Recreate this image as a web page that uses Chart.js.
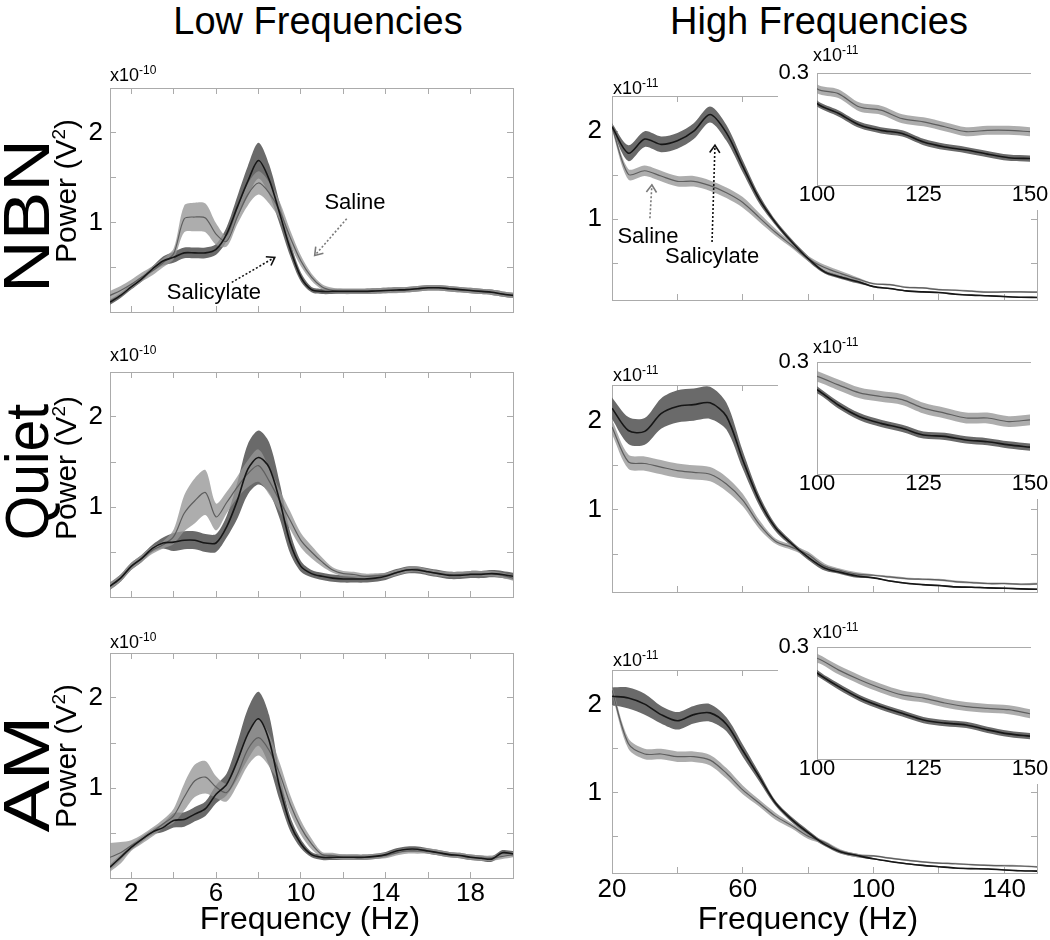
<!DOCTYPE html>
<html>
<head>
<meta charset="utf-8">
<title>Low and high frequency power spectra</title>
<script src="https://cdn.jsdelivr.net/npm/chart.js@4.4.1/dist/chart.umd.min.js"></script>
<style>
  body { margin: 0; background: #fff; }
  #fig { position: relative; width: 1050px; height: 940px; overflow: hidden;
         font-family: "Liberation Sans", Arial, sans-serif; color: #000; }
  #charts canvas { position: absolute; }
  #charts canvas.inset { background: #fff; }
  .txt { position: absolute; white-space: nowrap; line-height: 1; transform: translate(-50%, -50%); }
  .rot { transform: translate(-50%, -50%) rotate(-90deg); }
  .mult { position: absolute; white-space: nowrap; line-height: 1; font-size: 18px; }
  .mult sup { font-size: 12px; vertical-align: 7px; line-height: 0; }
</style>
</head>
<body>
<div id="fig">
  <div id="charts"></div>

  <div class="txt" style="left:318px;top:21px;font-size:38px">Low Frequencies</div>
  <div class="txt" style="left:819px;top:21px;font-size:38px">High Frequencies</div>

  <div class="txt" style="left:27px;top:216px;font-size:64px;transform:translate(-50%,-50%) rotate(-90deg) scaleX(1.14)">NBN</div>
  <div class="txt" style="left:27px;top:472px;font-size:62px;transform:translate(-50%,-50%) rotate(-90deg) scaleX(0.92)">Quiet</div>
  <div class="txt" style="left:27px;top:774px;font-size:64px;transform:translate(-50%,-50%) rotate(-90deg) scaleX(1.22)">AM</div>

  <div class="txt rot" style="left:65px;top:191px;font-size:30px">Power (V<sup style="font-size:19px">2</sup>)</div>
  <div class="txt rot" style="left:65px;top:468px;font-size:30px">Power (V<sup style="font-size:19px">2</sup>)</div>
  <div class="txt rot" style="left:65px;top:756px;font-size:30px">Power (V<sup style="font-size:19px">2</sup>)</div>

  <div class="mult" style="left:110px;top:66px">x10<sup>-10</sup></div>
  <div class="mult" style="left:110px;top:346px">x10<sup>-10</sup></div>
  <div class="mult" style="left:110px;top:633px">x10<sup>-10</sup></div>

  <div class="mult" style="left:613px;top:79px">x10<sup>-11</sup></div>
  <div class="mult" style="left:613px;top:366px">x10<sup>-11</sup></div>
  <div class="mult" style="left:613px;top:651px">x10<sup>-11</sup></div>

  <div class="mult" style="left:813px;top:46px">x10<sup>-11</sup></div>
  <div class="mult" style="left:813px;top:338px">x10<sup>-11</sup></div>
  <div class="mult" style="left:813px;top:623px">x10<sup>-11</sup></div>

  <div class="txt" style="left:310px;top:918px;font-size:32px">Frequency (Hz)</div>
  <div class="txt" style="left:808px;top:918px;font-size:32px">Frequency (Hz)</div>
</div>

<script>
// frequency grids (Hz)
const lowFreq = [1, 1.5, 2, 2.5, 3, 3.5, 4, 4.5, 5, 5.5, 6, 6.5, 7, 7.5, 8, 8.5, 9, 9.5, 10,
  10.5, 11, 11.5, 12, 12.5, 13, 13.5, 14, 14.5, 15, 15.5, 16, 16.5, 17, 17.5, 18, 18.5, 19, 19.5, 20];
const highFreq = [20, 25, 30, 35, 40, 45, 50, 55, 60, 65, 70, 75, 80, 85, 90, 95,
  100, 105, 110, 115, 120, 125, 130, 135, 140, 145, 150];

// low frequencies, x10^-10 V^2 (mean and SEM)
const nbnLowSaline = [0.185, 0.24, 0.31, 0.39, 0.46, 0.55, 0.65, 1.04, 1.06, 1.05, 0.87, 0.79, 1.06, 1.31, 1.44, 1.33, 1.13, 0.83, 0.57,
  0.39, 0.28, 0.24, 0.23, 0.23, 0.23, 0.235, 0.24, 0.24, 0.25, 0.26, 0.27, 0.27, 0.26, 0.25, 0.24, 0.23, 0.22, 0.2, 0.185];
const nbnLowSalineSem = [0.05, 0.05, 0.05, 0.05, 0.05, 0.05, 0.06, 0.15, 0.16, 0.16, 0.12, 0.06, 0.08, 0.12, 0.13, 0.12, 0.1, 0.08, 0.06,
  0.04, 0.03, 0.03, 0.03, 0.03, 0.03, 0.03, 0.03, 0.03, 0.03, 0.03, 0.03, 0.03, 0.03, 0.03, 0.03, 0.03, 0.03, 0.03, 0.03];
const nbnLowSalicylate = [0.11, 0.185, 0.28, 0.37, 0.48, 0.57, 0.61, 0.66, 0.66, 0.66, 0.70, 0.87, 1.17, 1.46, 1.69, 1.48, 1.10, 0.70, 0.39,
  0.25, 0.23, 0.23, 0.23, 0.23, 0.23, 0.235, 0.24, 0.245, 0.25, 0.26, 0.27, 0.27, 0.26, 0.25, 0.24, 0.23, 0.22, 0.2, 0.185];
const nbnLowSalicylateSem = [0.03, 0.03, 0.03, 0.03, 0.03, 0.05, 0.06, 0.06, 0.06, 0.06, 0.06, 0.08, 0.12, 0.17, 0.2, 0.17, 0.12, 0.08, 0.05,
  0.03, 0.03, 0.03, 0.03, 0.03, 0.03, 0.03, 0.03, 0.03, 0.03, 0.03, 0.03, 0.03, 0.03, 0.03, 0.03, 0.03, 0.03, 0.03, 0.03];

const quietLowSaline = [0.12, 0.21, 0.34, 0.43, 0.52, 0.58, 0.67, 0.93, 1.07, 1.16, 0.89, 1.05, 1.22, 1.37, 1.46, 1.29, 1.07, 0.85, 0.63,
  0.50, 0.39, 0.30, 0.26, 0.25, 0.23, 0.235, 0.24, 0.27, 0.30, 0.31, 0.28, 0.26, 0.25, 0.25, 0.26, 0.26, 0.26, 0.24, 0.21];
const quietLowSalineSem = [0.04, 0.04, 0.04, 0.04, 0.04, 0.04, 0.08, 0.2, 0.25, 0.25, 0.15, 0.12, 0.12, 0.15, 0.18, 0.15, 0.12, 0.1, 0.08,
  0.07, 0.05, 0.03, 0.03, 0.03, 0.03, 0.03, 0.03, 0.03, 0.03, 0.03, 0.03, 0.03, 0.03, 0.03, 0.03, 0.03, 0.03, 0.03, 0.03];
const quietLowSalicylate = [0.12, 0.21, 0.34, 0.43, 0.54, 0.60, 0.61, 0.63, 0.63, 0.60, 0.60, 0.78, 1.07, 1.42, 1.55, 1.44, 1.07, 0.60, 0.34,
  0.26, 0.23, 0.21, 0.20, 0.20, 0.20, 0.21, 0.23, 0.27, 0.30, 0.30, 0.28, 0.26, 0.24, 0.24, 0.25, 0.25, 0.26, 0.25, 0.23];
const quietLowSalicylateSem = [0.04, 0.04, 0.04, 0.04, 0.04, 0.06, 0.1, 0.1, 0.1, 0.1, 0.1, 0.12, 0.2, 0.28, 0.3, 0.28, 0.2, 0.12, 0.06,
  0.04, 0.04, 0.04, 0.04, 0.04, 0.04, 0.04, 0.04, 0.04, 0.04, 0.04, 0.04, 0.04, 0.04, 0.04, 0.04, 0.04, 0.04, 0.04, 0.04];

const amLowSaline = [0.23, 0.28, 0.36, 0.43, 0.51, 0.60, 0.69, 0.90, 1.08, 1.12, 1.01, 0.95, 1.15, 1.43, 1.56, 1.42, 1.16, 0.82, 0.56,
  0.38, 0.26, 0.25, 0.23, 0.23, 0.23, 0.24, 0.25, 0.28, 0.30, 0.30, 0.30, 0.28, 0.26, 0.25, 0.23, 0.22, 0.22, 0.24, 0.26];
const amLowSalineSem = [0.16, 0.12, 0.06, 0.05, 0.05, 0.05, 0.08, 0.15, 0.18, 0.18, 0.12, 0.1, 0.12, 0.18, 0.2, 0.18, 0.12, 0.1, 0.08,
  0.06, 0.03, 0.03, 0.03, 0.03, 0.03, 0.03, 0.03, 0.03, 0.03, 0.03, 0.03, 0.03, 0.03, 0.03, 0.03, 0.03, 0.03, 0.03, 0.03];
const amLowSalicylate = [0.12, 0.23, 0.34, 0.43, 0.51, 0.56, 0.64, 0.65, 0.71, 0.77, 0.93, 1.04, 1.30, 1.60, 1.77, 1.53, 1.01, 0.60, 0.38,
  0.26, 0.23, 0.23, 0.23, 0.23, 0.23, 0.24, 0.26, 0.30, 0.32, 0.32, 0.30, 0.28, 0.26, 0.25, 0.23, 0.22, 0.21, 0.28, 0.27];
const amLowSalicylateSem = [0.03, 0.03, 0.03, 0.03, 0.03, 0.05, 0.08, 0.08, 0.08, 0.08, 0.1, 0.12, 0.2, 0.28, 0.3, 0.28, 0.15, 0.08, 0.05,
  0.03, 0.03, 0.03, 0.03, 0.03, 0.03, 0.03, 0.03, 0.03, 0.03, 0.03, 0.03, 0.03, 0.03, 0.03, 0.03, 0.03, 0.03, 0.03, 0.03];

// high frequencies, x10^-11 V^2
const nbnHighSaline = [2.05, 1.51, 1.55, 1.49, 1.43, 1.43, 1.38, 1.30, 1.19, 1.02, 0.85, 0.70, 0.55, 0.45, 0.38, 0.32,
  0.265, 0.254, 0.224, 0.217, 0.198, 0.191, 0.180, 0.169, 0.172, 0.172, 0.169];
const nbnHighSalineSem = [0.04, 0.06, 0.06, 0.06, 0.06, 0.06, 0.06, 0.06, 0.06, 0.05, 0.04, 0.03, 0.03, 0.03, 0.03, 0.02,
  0.01, 0.01, 0.01, 0.01, 0.01, 0.01, 0.01, 0.01, 0.01, 0.01, 0.01];
const nbnHighSalicylate = [2.05, 1.75, 1.91, 1.85, 1.89, 2.00, 2.19, 1.98, 1.60, 1.23, 0.96, 0.74, 0.55, 0.40, 0.34, 0.29,
  0.232, 0.210, 0.184, 0.172, 0.165, 0.146, 0.135, 0.128, 0.119, 0.111, 0.109];
const nbnHighSalicylateSem = [0.04, 0.09, 0.09, 0.09, 0.09, 0.09, 0.09, 0.09, 0.07, 0.05, 0.03, 0.03, 0.03, 0.02, 0.02, 0.02,
  0.007, 0.007, 0.007, 0.007, 0.007, 0.007, 0.007, 0.007, 0.007, 0.007, 0.007];

const quietHighSaline = [1.93, 1.54, 1.52, 1.48, 1.44, 1.42, 1.40, 1.29, 1.11, 0.84, 0.65, 0.58, 0.50, 0.37, 0.32, 0.28,
  0.268, 0.249, 0.231, 0.223, 0.216, 0.197, 0.186, 0.175, 0.175, 0.167, 0.171];
const quietHighSalineSem = [0.08, 0.08, 0.08, 0.08, 0.08, 0.08, 0.08, 0.08, 0.07, 0.05, 0.03, 0.03, 0.03, 0.03, 0.02, 0.02,
  0.012, 0.012, 0.012, 0.012, 0.012, 0.012, 0.012, 0.012, 0.012, 0.012, 0.012];
const quietHighSalicylate = [2.14, 1.89, 1.88, 2.08, 2.16, 2.18, 2.20, 2.05, 1.56, 1.11, 0.80, 0.62, 0.47, 0.35, 0.30, 0.26,
  0.238, 0.204, 0.178, 0.163, 0.152, 0.137, 0.134, 0.126, 0.122, 0.115, 0.110];
const quietHighSalicylateSem = [0.12, 0.15, 0.15, 0.17, 0.18, 0.18, 0.18, 0.15, 0.1, 0.06, 0.04, 0.03, 0.03, 0.03, 0.02, 0.02,
  0.008, 0.008, 0.008, 0.008, 0.008, 0.008, 0.008, 0.008, 0.008, 0.008, 0.008];

const amHighSaline = [2.17, 1.56, 1.44, 1.44, 1.41, 1.41, 1.37, 1.22, 1.03, 0.88, 0.73, 0.62, 0.50, 0.43, 0.33, 0.28,
  0.275, 0.249, 0.227, 0.208, 0.193, 0.186, 0.175, 0.167, 0.163, 0.160, 0.151];
const amHighSalineSem = [0.05, 0.06, 0.06, 0.06, 0.06, 0.06, 0.06, 0.06, 0.05, 0.04, 0.04, 0.03, 0.03, 0.02, 0.02, 0.02,
  0.01, 0.01, 0.01, 0.01, 0.01, 0.01, 0.01, 0.01, 0.01, 0.01, 0.01];
const amHighSalicylate = [2.10, 2.08, 2.01, 1.89, 1.82, 1.89, 1.91, 1.78, 1.48, 1.18, 0.88, 0.69, 0.54, 0.41, 0.32, 0.28,
  0.242, 0.212, 0.186, 0.167, 0.152, 0.137, 0.130, 0.126, 0.115, 0.106, 0.101];
const amHighSalicylateSem = [0.1, 0.12, 0.12, 0.1, 0.1, 0.1, 0.1, 0.08, 0.07, 0.05, 0.03, 0.03, 0.03, 0.02, 0.02, 0.02,
  0.007, 0.007, 0.007, 0.007, 0.007, 0.007, 0.007, 0.007, 0.007, 0.007, 0.007];

// axis ticks and labels
const lowXTicks = [2, 4, 6, 8, 10, 12, 14, 16, 18];
const lowXLabels = [2, 6, 10, 14, 18];
const lowYTicks = [0.5, 1, 1.5, 2];
const highXTicks = [20, 40, 60, 80, 100, 120, 140];
const highXLabels = [20, 60, 100, 140];
const highYTicks = [0.5, 1, 1.5, 2];
const mainYLabels = [1, 2];
const insetXTicks = [100, 125, 150];
const insetYTicks = [0.3];

const FONT = 'Liberation Sans';
const AXIS_COLOR = '#ababab';

const notesPlugin = {
  id: 'notes',
  afterDatasetsDraw(chart, args, opts) {
    const ctx = chart.ctx;
    const xs = chart.scales.x, ys = chart.scales.y;
    ctx.save();
    (opts.arrows || []).forEach(a => {
      const x1 = xs.getPixelForValue(a.from[0]), y1 = ys.getPixelForValue(a.from[1]);
      const x2 = xs.getPixelForValue(a.to[0]), y2 = ys.getPixelForValue(a.to[1]);
      ctx.strokeStyle = a.color;
      ctx.lineWidth = 1.6;
      ctx.setLineDash([2, 2]);
      ctx.beginPath();
      ctx.moveTo(x1, y1);
      ctx.lineTo(x2, y2);
      ctx.stroke();
      ctx.setLineDash([]);
      const ang = Math.atan2(y2 - y1, x2 - x1);
      ctx.beginPath();
      ctx.moveTo(x2 - 9 * Math.cos(ang - 0.6), y2 - 9 * Math.sin(ang - 0.6));
      ctx.lineTo(x2, y2);
      ctx.lineTo(x2 - 9 * Math.cos(ang + 0.6), y2 - 9 * Math.sin(ang + 0.6));
      ctx.stroke();
    });
    ctx.fillStyle = '#000';
    ctx.font = '22px "' + FONT + '"';
    ctx.textAlign = 'center';
    ctx.textBaseline = 'middle';
    (opts.labels || []).forEach(l => {
      ctx.fillText(l.text, xs.getPixelForValue(l.at[0]), ys.getPixelForValue(l.at[1]));
    });
    ctx.restore();
  }
};

function meanPoints(xs, mean) {
  return xs.map((x, i) => ({ x: x, y: mean[i] }));
}
function edgePoints(xs, mean, sem, sign) {
  return xs.map((x, i) => ({ x: x, y: mean[i] + sign * sem[i] }));
}

function spectra(xs, saline, salineSem, salicylate, salicylateSem) {
  const clear = 'rgba(0,0,0,0)';
  // drawn last-to-first: dark band, light band, saline mean, salicylate mean
  return [
    { label: 'Salicylate', data: meanPoints(xs, salicylate), borderColor: '#161616', borderWidth: 1.6 },
    { label: 'Saline', data: meanPoints(xs, saline), borderColor: '#5e5e5e', borderWidth: 1.2 },
    { data: edgePoints(xs, saline, salineSem, 1), borderColor: clear, borderWidth: 0, fill: '+1', backgroundColor: 'rgba(150,150,150,0.78)' },
    { data: edgePoints(xs, saline, salineSem, -1), borderColor: clear, borderWidth: 0 },
    { data: edgePoints(xs, salicylate, salicylateSem, 1), borderColor: clear, borderWidth: 0, fill: '+1', backgroundColor: 'rgb(106,106,106)' },
    { data: edgePoints(xs, salicylate, salicylateSem, -1), borderColor: clear, borderWidth: 0 },
  ];
}

function axis(pos, min, max, ticks, labels, o) {
  const horizontal = pos === 'top' || pos === 'bottom';
  return {
    type: 'linear', position: pos, min: min, max: max,
    afterBuildTicks: s => { s.ticks = ticks.map(v => ({ value: v })); },
    afterFit: s => {
      if (horizontal) s.height = o.size; else s.width = o.size;
      s.paddingLeft = s.paddingRight = s.paddingTop = s.paddingBottom = 0;
    },
    ticks: {
      display: labels.length > 0, autoSkip: false, maxRotation: 0, padding: o.pad || 0,
      color: '#000', font: { family: FONT, size: o.font || 26 },
      callback: v => (labels.indexOf(v) >= 0 ? String(v) : '')
    },
    grid: { drawOnChartArea: false, drawTicks: !!o.tick, tickLength: o.tick || 0, color: AXIS_COLOR },
    border: { display: o.border !== false, color: AXIS_COLOR, width: 1 }
  };
}

function addChart(g, datasets, scales, notes) {
  const w = g.axisW + (g.r - g.l) + g.padR;
  const h = g.padT + (g.b - g.t) + g.axisH;
  const cv = document.createElement('canvas');
  cv.width = w;
  cv.height = h;
  cv.style.left = (g.l - g.axisW) + 'px';
  cv.style.top = (g.t - g.padT) + 'px';
  cv.style.width = w + 'px';
  cv.style.height = h + 'px';
  if (g.inset) cv.className = 'inset';
  document.getElementById('charts').appendChild(cv);
  new Chart(cv, {
    type: 'line',
    data: { datasets: datasets },
    options: {
      responsive: false, maintainAspectRatio: false, animation: false,
      layout: { padding: { left: 0, top: g.padT, right: g.padR, bottom: 0 } },
      elements: { point: { radius: 0 }, line: { tension: 0.3 } },
      plugins: { legend: { display: false }, tooltip: { enabled: false }, notes: notes || {} },
      scales: scales
    },
    plugins: [notesPlugin]
  });
}

function lowPanel(top, bottom, sets, showX, notes) {
  const g = { l: 110, r: 513, t: top, b: bottom, axisW: 50, axisH: 50, padT: 8, padR: 12 };
  addChart(g, sets, {
    x: axis('bottom', 1, 20, lowXTicks, showX ? lowXLabels : [], { size: 50, tick: -6, pad: 6 }),
    y: axis('left', 0, 2.5, lowYTicks, mainYLabels, { size: 50, tick: -6, pad: 13 }),
    x2: axis('top', 1, 20, lowXTicks, [], { size: 0, tick: -6 }),
    y2: axis('right', 0, 2.5, lowYTicks, [], { size: 0, tick: -6 })
  }, notes);
}

function highPanel(top, bottom, sets, showX, notes) {
  const g = { l: 612, r: 1037, t: top, b: bottom, axisW: 50, axisH: 50, padT: 8, padR: 13 };
  addChart(g, sets, {
    x: axis('bottom', 20, 150, highXTicks, showX ? highXLabels : [], { size: 50, tick: -6, pad: 7 }),
    y: axis('left', 0.08, 2.4, highYTicks, mainYLabels, { size: 50, tick: -6, pad: 16 }),
    x2: axis('top', 20, 150, highXTicks, [], { size: 0, tick: -6 }),
    y2: axis('right', 0.08, 2.4, highYTicks, [], { size: 0, tick: -6 })
  }, notes);
}

function insetPanel(top, sets) {
  const g = { l: 817, r: 1030, t: top, b: top + 112, axisW: 39, axisH: 25, padT: 28, padR: 20, inset: true };
  addChart(g, sets, {
    x: axis('bottom', 100, 150, insetXTicks, insetXTicks, { size: 25, pad: -3, font: 22 }),
    y: axis('left', 0.05, 0.3, insetYTicks, insetYTicks, { size: 39, pad: 8, font: 22 }),
    x2: axis('top', 100, 150, [], [], { size: 0 })
  });
}

lowPanel(88, 312, spectra(lowFreq, nbnLowSaline, nbnLowSalineSem, nbnLowSalicylate, nbnLowSalicylateSem), false, {
  labels: [{ text: 'Saline', at: [12.55, 1.22] }, { text: 'Salicylate', at: [5.9, 0.21] }],
  arrows: [{ from: [12.16, 1.04], to: [10.65, 0.63], color: '#7a7a7a' },
           { from: [6.74, 0.33], to: [8.77, 0.61], color: '#111' }]
});
lowPanel(372, 597, spectra(lowFreq, quietLowSaline, quietLowSalineSem, quietLowSalicylate, quietLowSalicylateSem), false);
lowPanel(653, 878, spectra(lowFreq, amLowSaline, amLowSalineSem, amLowSalicylate, amLowSalicylateSem), true);

highPanel(96, 300, spectra(highFreq, nbnHighSaline, nbnHighSalineSem, nbnHighSalicylate, nbnHighSalicylateSem), false, {
  labels: [{ text: 'Saline', at: [31.0, 0.8] }, { text: 'Salicylate', at: [50.6, 0.57] }],
  arrows: [{ from: [31.6, 1.01], to: [32.2, 1.39], color: '#7a7a7a' },
           { from: [50.6, 0.74], to: [51.5, 1.84], color: '#111' }]
});
highPanel(385, 592, spectra(highFreq, quietHighSaline, quietHighSalineSem, quietHighSalicylate, quietHighSalicylateSem), false);
highPanel(670, 873, spectra(highFreq, amHighSaline, amHighSalineSem, amHighSalicylate, amHighSalicylateSem), true);

insetPanel(73, spectra(highFreq, nbnHighSaline, nbnHighSalineSem, nbnHighSalicylate, nbnHighSalicylateSem));
insetPanel(362, spectra(highFreq, quietHighSaline, quietHighSalineSem, quietHighSalicylate, quietHighSalicylateSem));
insetPanel(647, spectra(highFreq, amHighSaline, amHighSalineSem, amHighSalicylate, amHighSalicylateSem));
</script>
</body>
</html>
